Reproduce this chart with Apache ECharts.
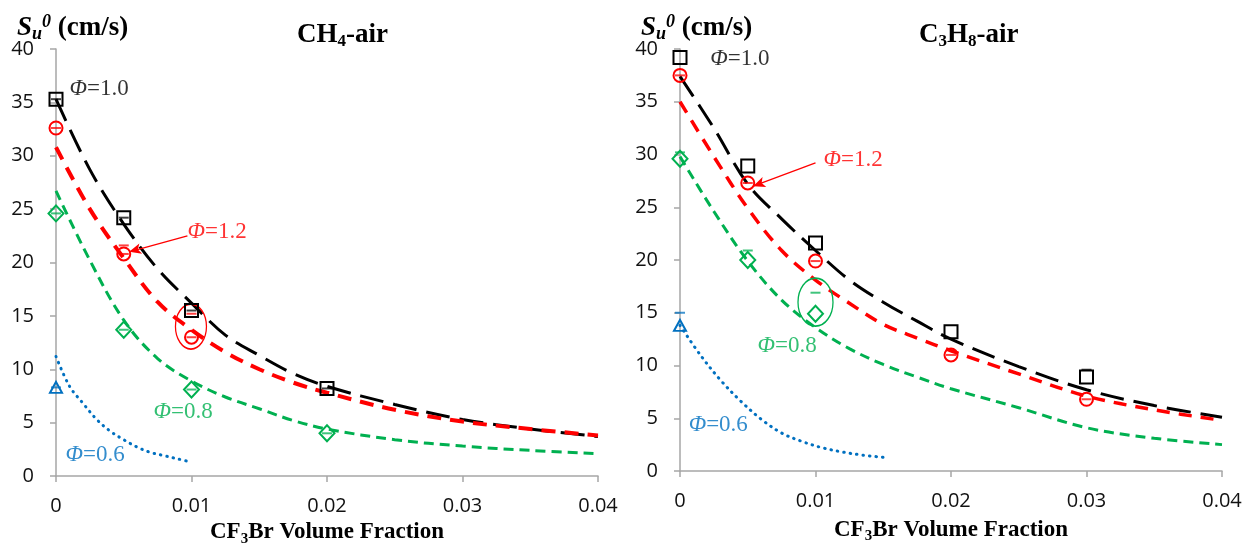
<!DOCTYPE html>
<html>
<head>
<meta charset="utf-8">
<script src="https://cdn.jsdelivr.net/npm/echarts@6/dist/echarts.min.js"></script>
<style>
  html, body { margin: 0; padding: 0; background: #fff; }
  #chart { width: 1253px; height: 546px; }
</style>
</head>
<body>
<div id="chart"></div>
<script>
// ---- data ----
// x grid used for the fitted curves (CF3Br volume fraction)
var fitX = [0, 0.0025, 0.005, 0.0075, 0.01, 0.0125, 0.015, 0.0175, 0.02, 0.025, 0.03, 0.035, 0.04];
var fitXLeanCH4 = [0, 0.001, 0.002, 0.003, 0.004, 0.005, 0.006, 0.007, 0.008, 0.009, 0.01];
var fitXLeanC3H8 = [0, 0.0015, 0.003, 0.0045, 0.006, 0.0075, 0.009, 0.0105, 0.012, 0.0135, 0.015];

// CH4-air fitted curves
var ch4Fit10 = [35.3, 28.7, 23.6, 19.4, 16.2, 13.2, 11.3, 9.6, 8.4, 6.7, 5.3, 4.4, 3.7];
var ch4Fit12 = [30.8, 25.0, 20.4, 16.3, 13.7, 11.6, 10.0, 8.75, 7.8, 6.2, 5.1, 4.4, 3.8];
var ch4Fit08 = [26.7, 20.2, 14.6, 11.0, 8.9, 7.4, 6.3, 5.2, 4.4, 3.4, 2.8, 2.4, 2.1];
var ch4Fit06 = [11.2, 8.4, 6.8, 5.3, 4.2, 3.4, 2.7, 2.2, 1.9, 1.6, 1.3];

// CH4-air measurements
var ch4Pts10 = [[0, 35.3], [0.005, 24.2], [0.01, 15.5], [0.02, 8.2]];
var ch4Pts12 = [[0, 32.6], [0.005, 20.8], [0.01, 13.0]];
var ch4Pts08 = [[0, 24.6], [0.005, 13.7], [0.01, 8.1], [0.02, 4.0]];
var ch4Pts06 = [[0, 8.3]];
var ch4Caps12 = [[0.005, 21.6], [0.01, 15.2]];

// C3H8-air fitted curves
var c3h8Fit10 = [37.4, 32.5, 27.2, 23.9, 20.9, 18.1, 16.0, 14.2, 12.5, 9.9, 7.7, 6.2, 5.1];
var c3h8Fit12 = [35.0, 29.8, 24.9, 20.9, 18.1, 15.9, 13.9, 12.6, 11.4, 9.2, 7.1, 5.8, 4.8];
var c3h8Fit08 = [29.8, 24.6, 19.9, 16.2, 13.6, 11.6, 10.1, 8.9, 7.8, 6.0, 4.1, 3.1, 2.5];
var c3h8Fit06 = [13.8, 11.0, 8.6, 6.6, 4.9, 3.6, 2.8, 2.2, 1.8, 1.5, 1.3];

// C3H8-air measurements
var c3h8Pts10 = [[0, 39.2], [0.005, 28.9], [0.01, 21.6], [0.02, 13.2], [0.03, 8.9]];
var c3h8Pts12 = [[0, 37.5], [0.005, 27.3], [0.01, 19.9], [0.02, 11.0], [0.03, 6.8]];
var c3h8Pts08 = [[0, 29.6], [0.005, 20.0], [0.01, 14.9]];
var c3h8Pts06 = [[0, 13.8]];
var c3h8Caps08 = [[0, 30.2], [0.005, 20.9], [0.01, 16.9]];
var c3h8Caps06 = [[0, 15.0]];
var c3h8Caps10 = [[0.03, 9.6]];

// annotations: label anchor points, arrows, circled points
var ch4Labels = [[0.00096, 36.3, '1.0'], [0.00967, 22.85, '1.2'], [0.00716, 6.0, '0.8'], [0.00066, 2.0, '0.6']];
var c3h8Labels = [[0.0022, 39.1, '1.0'], [0.01055, 29.5, '1.2'], [0.00568, 11.9, '0.8'], [0.0006, 4.4, '0.6']];
var ch4Arrow = [[0.0097, 22.5], [0.0054, 21.0]];
var c3h8Arrow = [[0.01, 29.2], [0.0054, 27.0]];
var ch4Ring = [[0.00996, 14.0]];
var c3h8Ring = [[0.01, 16.0]];

var BLACK = '#000000', RED = '#ff0000', GREEN = '#00b050', BLUE = '#0070c0';
var LABEL_COLORS = [BLACK, RED, GREEN, BLUE];
var SERIF = '"Liberation Serif", "DejaVu Serif", serif';
var SANS = '"Open Sans", "Noto Sans", sans-serif';

function zip(xs, ys) {
  return ys.map(function (y, i) { return [xs[i], y]; });
}

function fitLine(idx, xs, ys, color, width, dash, cap) {
  return {
    type: 'line', xAxisIndex: idx, yAxisIndex: idx,
    data: zip(xs, ys), symbol: 'none', smooth: 0.35, silent: true, z: 2,
    lineStyle: { color: color, width: width, type: dash, cap: cap || 'butt' }
  };
}

function points(idx, data, symbol, size, color) {
  return {
    type: 'scatter', xAxisIndex: idx, yAxisIndex: idx, data: data,
    symbol: symbol, symbolSize: size, z: 4, silent: true,
    itemStyle: { color: 'rgba(255,255,255,0)', borderColor: color, borderWidth: 2, opacity: 1 }
  };
}

// error-bar caps drawn as short horizontal ticks
function caps(idx, data, color) {
  return {
    type: 'scatter', xAxisIndex: idx, yAxisIndex: idx, data: data,
    symbol: 'rect', symbolSize: [10, 2], z: 5, silent: true,
    itemStyle: { color: color, opacity: 0.75 }
  };
}

function ring(idx, data, color, size) {
  return {
    type: 'scatter', xAxisIndex: idx, yAxisIndex: idx, data: data,
    symbol: 'circle', symbolSize: size, z: 3, silent: true,
    itemStyle: { color: 'rgba(255,255,255,0)', borderColor: color, borderWidth: 1.5, opacity: 1 }
  };
}

function labels(idx, data, arrow) {
  return {
    type: 'scatter', xAxisIndex: idx, yAxisIndex: idx, z: 6, silent: true,
    symbolSize: 1, itemStyle: { color: 'rgba(0,0,0,0)' },
    data: data.map(function (d, i) {
      return {
        value: [d[0], d[1]],
        label: {
          show: true, position: 'right', distance: 0,
          formatter: '{p|Φ}{t|=' + d[2] + '}',
          rich: {
            p: { fontFamily: SERIF, fontStyle: 'italic', fontSize: 23, color: LABEL_COLORS[i] },
            t: { fontFamily: SERIF, fontSize: 23, color: LABEL_COLORS[i] }
          }
        }
      };
    }),
    markLine: {
      silent: true, symbol: ['none', 'arrow'], symbolSize: [8, 12],
      lineStyle: { color: RED, width: 1.3, type: 'solid' },
      label: { show: false },
      data: [[{ coord: arrow[0] }, { coord: arrow[1] }]]
    }
  };
}

function xAxis(idx, gap) {
  return {
    type: 'value', gridIndex: idx, min: 0, max: 0.04, interval: 0.01,
    name: '{b|CF}{s|3}{b|Br Volume Fraction}', nameLocation: 'middle', nameGap: gap,
    nameTextStyle: {
      rich: {
        b: { fontFamily: SERIF, fontWeight: 'bold', fontSize: 23, color: '#000', lineHeight: 28 },
        s: { fontFamily: SERIF, fontWeight: 'bold', fontSize: 15, color: '#000', lineHeight: 15, verticalAlign: 'bottom' }
      }
    },
    splitLine: { show: false },
    axisLine: { lineStyle: { color: '#a6a6a6', width: 1.5 } },
    axisTick: { show: true, length: 6, lineStyle: { color: '#a6a6a6', width: 1.5 } },
    axisLabel: {
      fontFamily: SANS, fontSize: 20, color: '#111', margin: 20,
      formatter: function (v) { return v === 0 ? '0' : v.toFixed(2); }
    }
  };
}

function yAxis(idx) {
  return {
    type: 'value', gridIndex: idx, min: 0, max: 40, interval: 5,
    splitLine: { show: false },
    axisLine: { show: true, lineStyle: { color: '#a6a6a6', width: 1.5 } },
    axisTick: { show: true, length: 6, lineStyle: { color: '#a6a6a6', width: 1.5 } },
    axisLabel: { fontFamily: SANS, fontSize: 20, color: '#111', margin: 22 }
  };
}

var titleRich = {
  b: { fontFamily: SERIF, fontWeight: 'bold', fontSize: 27, color: '#000', lineHeight: 30 },
  s: { fontFamily: SERIF, fontWeight: 'bold', fontSize: 17, color: '#000', lineHeight: 17, verticalAlign: 'bottom' }
};
var unitRich = {
  S: { fontFamily: SERIF, fontWeight: 'bold', fontStyle: 'italic', fontSize: 27, color: '#000', lineHeight: 30 },
  u: { fontFamily: SERIF, fontWeight: 'bold', fontStyle: 'italic', fontSize: 18, color: '#000', lineHeight: 16, verticalAlign: 'bottom' },
  z: { fontFamily: SERIF, fontWeight: 'bold', fontStyle: 'italic', fontSize: 18, color: '#000', lineHeight: 16, verticalAlign: 'top' },
  n: { fontFamily: SERIF, fontWeight: 'bold', fontSize: 27, color: '#000', lineHeight: 30 }
};

var chart = echarts.init(document.getElementById('chart'));
chart.setOption({
  animation: false,
  backgroundColor: '#ffffff',
  title: [
    { text: '{S|S}{u|u}{z|0}{n| (cm/s)}', left: 12, top: 8, textStyle: { rich: unitRich } },
    { text: '{b|CH}{s|4}{b|-air}', left: 292, top: 15, textStyle: { rich: titleRich } },
    { text: '{S|S}{u|u}{z|0}{n| (cm/s)}', left: 636, top: 8, textStyle: { rich: unitRich } },
    { text: '{b|C}{s|3}{b|H}{s|8}{b|-air}', left: 914, top: 15, textStyle: { rich: titleRich } }
  ],
  grid: [
    { left: 56, top: 49, width: 542, height: 427, outerBoundsMode: 'none' },
    { left: 680, top: 49, width: 542, height: 422, outerBoundsMode: 'none' }
  ],
  xAxis: [xAxis(0, 40), xAxis(1, 45)],
  yAxis: [yAxis(0), yAxis(1)],
  series: [
    // CH4-air
    fitLine(0, fitX, ch4Fit10, BLACK, 3, [24, 10]),
    fitLine(0, fitX, ch4Fit12, RED, 4, [14, 9]),
    fitLine(0, fitX, ch4Fit08, GREEN, 3, [10, 6]),
    fitLine(0, fitXLeanCH4, ch4Fit06, BLUE, 3, [0.5, 6], 'round'),
    points(0, ch4Pts10, 'rect', 13, BLACK),
    points(0, ch4Pts12, 'circle', 13, RED),
    points(0, ch4Pts08, 'diamond', [15, 16], GREEN),
    points(0, ch4Pts06, 'triangle', [12, 11], BLUE),
    caps(0, ch4Pts10, BLACK),
    caps(0, ch4Pts12, RED),
    caps(0, ch4Pts08, GREEN),
    caps(0, ch4Pts06, BLUE),
    caps(0, ch4Caps12, RED),
    ring(0, ch4Ring, RED, [31, 45]),
    labels(0, ch4Labels, ch4Arrow),
    // C3H8-air
    fitLine(1, fitX, c3h8Fit10, BLACK, 3, [24, 10]),
    fitLine(1, fitX, c3h8Fit12, RED, 3.5, [13, 9]),
    fitLine(1, fitX, c3h8Fit08, GREEN, 3, [10, 6]),
    fitLine(1, fitXLeanC3H8, c3h8Fit06, BLUE, 3, [0.5, 6], 'round'),
    points(1, c3h8Pts10, 'rect', 13, BLACK),
    points(1, c3h8Pts12, 'circle', 13, RED),
    points(1, c3h8Pts08, 'diamond', [15, 16], GREEN),
    points(1, c3h8Pts06, 'triangle', [12, 11], BLUE),
    caps(1, c3h8Pts12, RED),
    caps(1, c3h8Caps08, GREEN),
    caps(1, c3h8Caps06, BLUE),
    caps(1, c3h8Caps10, BLACK),
    ring(1, c3h8Ring, GREEN, [35, 48]),
    labels(1, c3h8Labels, c3h8Arrow)
  ]
});
window.addEventListener('resize', function () { chart.resize(); });
</script>
</body>
</html>
